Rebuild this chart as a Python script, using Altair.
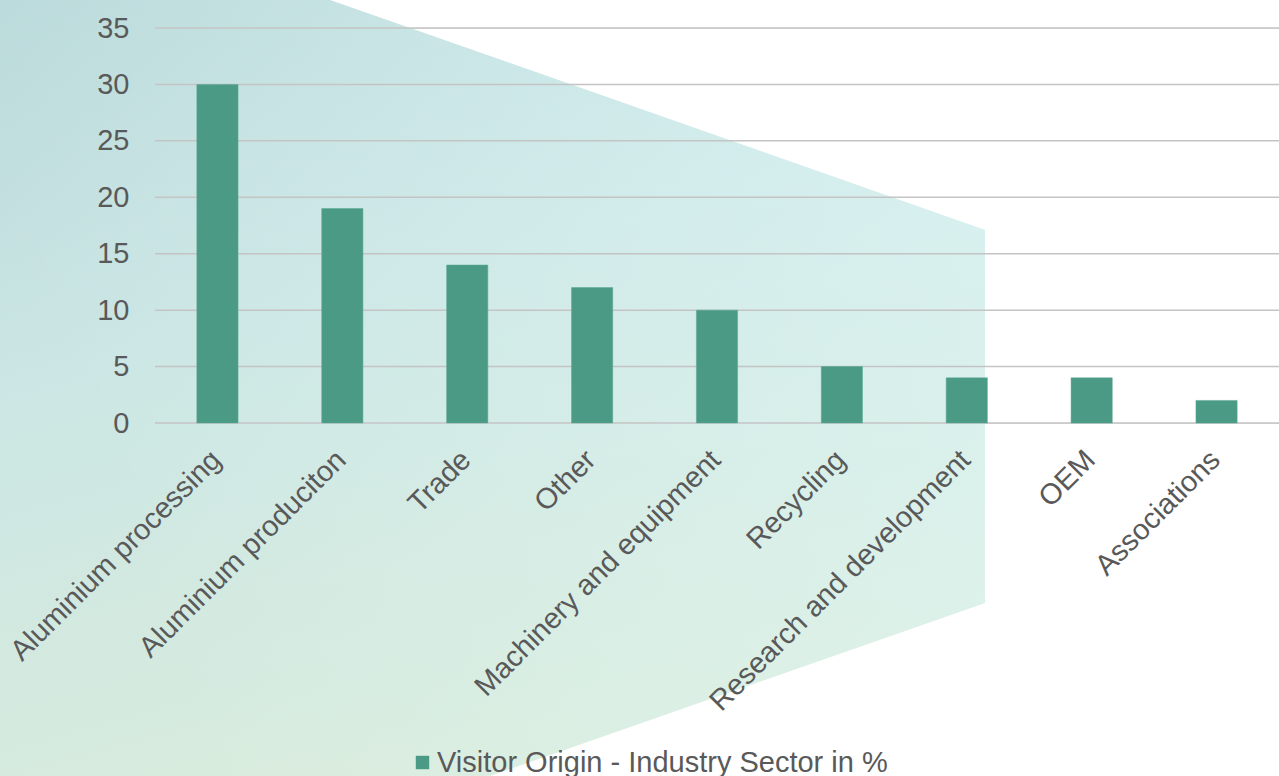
import altair as alt
import pandas as pd

# ---- data ----
categories = ["Aluminium processing", "Aluminium produciton", "Trade", "Other",
              "Machinery and equipment", "Recycling", "Research and development",
              "OEM", "Associations"]
values = [30, 19, 14, 12, 10, 5, 4, 4, 2]
series_name = "Visitor Origin - Industry Sector in %"
y_ticks = [0, 5, 10, 15, 20, 25, 30, 35]

# decorative background shape (pixel space of the plot area)
deco_x = [-155, 175, 335, 830]
deco_top = [-28, -28, 28, 202]
deco_bottom = [748, 748, 748, 575]

W, H = 1124, 395
FONT = "Liberation Sans"
FS = 29

bars_df = pd.DataFrame({"category": categories, "value": values, "series": series_name})
grid_df = pd.DataFrame({"v": y_ticks})
deco_df = pd.DataFrame({"x": deco_x, "top": deco_top, "bottom": deco_bottom})

deco = alt.Chart(deco_df).mark_area(
    clip=False,
    color=alt.Gradient(
        gradient="linear",
        stops=[alt.GradientStop(color="#bad9da", offset=0),
               alt.GradientStop(color="#cbe6e4", offset=0.45),
               alt.GradientStop(color="#d9ecdd", offset=1)],
        x1=0, y1=0, x2=0.35, y2=1,
    ),
).encode(
    x=alt.X("x:Q", scale=alt.Scale(domain=[0, W]), axis=None),
    y=alt.Y("top:Q", scale=alt.Scale(domain=[0, H], reverse=True), axis=None),
    y2="bottom:Q",
)

deco_light = alt.Chart(deco_df).mark_area(
    clip=False,
    color=alt.Gradient(
        gradient="linear",
        stops=[alt.GradientStop(color="rgba(225,248,250,0)", offset=0),
               alt.GradientStop(color="rgba(225,248,250,0.55)", offset=1)],
        x1=0, y1=0.3, x2=1, y2=0,
    ),
).encode(
    x=alt.X("x:Q", scale=alt.Scale(domain=[0, W]), axis=None),
    y=alt.Y("top:Q", scale=alt.Scale(domain=[0, H], reverse=True), axis=None),
    y2="bottom:Q",
)

grid = alt.Chart(grid_df).mark_rule(color="#c4c4c4", strokeWidth=1.5).encode(
    y=alt.Y("v:Q", scale=alt.Scale(domain=[0, 35]), axis=None),
)

bars = alt.Chart(bars_df).mark_bar(stroke="#5aa893", strokeWidth=0.5).encode(
    x=alt.X("category:N", sort=categories, title=None,
            scale=alt.Scale(paddingInner=0.67, paddingOuter=0.335),
            axis=alt.Axis(labelAngle=-45, labelFontSize=FS, labelFont=FONT,
                          labelColor="#595959", ticks=False, domain=False,
                          labelPadding=22, labelOffset=-11, labelLimit=400,
                          zindex=1)),
    y=alt.Y("value:Q", scale=alt.Scale(domain=[0, 35]), title=None,
            axis=alt.Axis(values=y_ticks, grid=False, domain=False, ticks=False,
                          labelFontSize=FS, labelFont=FONT, labelColor="#595959",
                          labelPadding=26, zindex=1)),
    color=alt.Color("series:N", scale=alt.Scale(range=["#4a9a86"]), title=None,
                    legend=alt.Legend(orient="none", legendX=253, legendY=720,
                                      labelFontSize=FS, labelFont=FONT,
                                      labelColor="#595959", symbolType="square",
                                      symbolSize=180, symbolStrokeWidth=0,
                                      labelOffset=0, labelLimit=600)),
)

chart = alt.layer(deco, deco_light, grid, bars).resolve_scale(
    x="independent", y="independent"
).properties(
    width=W, height=H,
    autosize=alt.AutoSizeParams(type="none"),
    padding={"left": 155, "top": 28, "right": 0, "bottom": 353},
).configure_view(stroke=None).configure(background="white")

chart.save("out.html", embed_options={"renderer": "svg", "actions": False})
